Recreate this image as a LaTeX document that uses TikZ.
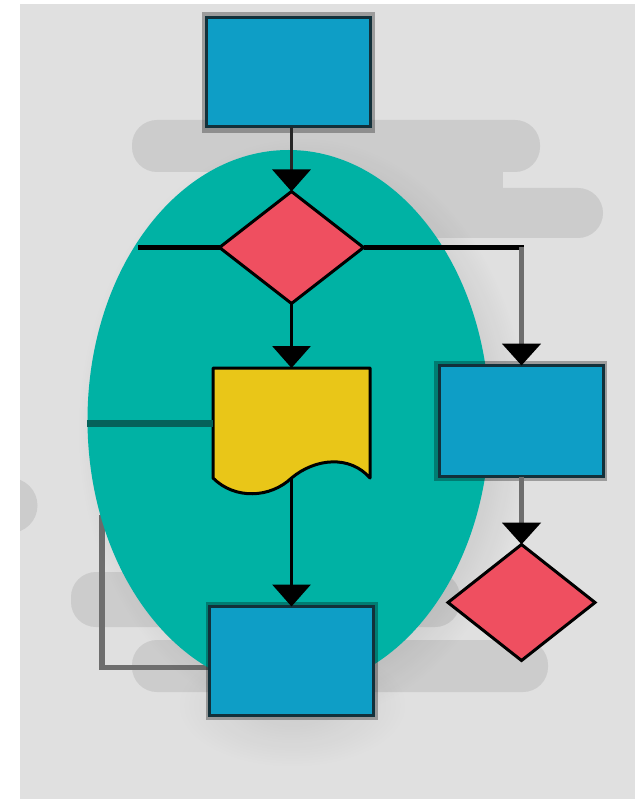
\documentclass[tikz,border=0pt]{standalone}
\usetikzlibrary{arrows.meta,shapes.geometric,fadings,calc}
\definecolor{bgc}{HTML}{E0E0E0}
\definecolor{blobc}{HTML}{CCCCCC}
\definecolor{tealc}{HTML}{00B2A4}
\definecolor{bluec}{HTML}{0E9EC6}
\definecolor{redc}{HTML}{EF4F60}
\definecolor{yelc}{HTML}{E9C618}
\definecolor{edgec}{HTML}{12303A}
\definecolor{linegray}{HTML}{6E6E6E}
\definecolor{darkteal}{HTML}{05625A}
\pgfdeclareradialshading{softedgeshade}{\pgfpointorigin}{color(0bp)=(pgftransparent!0); color(15bp)=(pgftransparent!0); color(25bp)=(pgftransparent!100); color(50bp)=(pgftransparent!100)}
\pgfdeclarefading{softedge}{\pgfuseshading{softedgeshade}}
\pgfdeclareradialshading{softallshade}{\pgfpointorigin}{color(0bp)=(pgftransparent!0); color(8bp)=(pgftransparent!10); color(25bp)=(pgftransparent!100); color(50bp)=(pgftransparent!100)}
\pgfdeclarefading{softall}{\pgfuseshading{softallshade}}
\pgfdeclarelayer{layerA}
\pgfdeclarelayer{layerB}
\pgfsetlayers{layerA,layerB,main}
\begin{document}
\begin{tikzpicture}[x=1pt,y=-1pt,
  boxst/.style={rectangle, draw=edgec, fill=bluec, line width=3pt, inner sep=0pt, outer sep=0pt, minimum width=164pt, minimum height=109pt},
  decst/.style={diamond, draw=black, fill=redc, line width=3pt, inner sep=0pt, outer sep=0pt},
  blob/.style={fill=blobc, rounded corners=25pt},
  rim/.style={fill=black, opacity=0.3},
  tip/.style={-{Triangle[width=38pt,length=22pt,color=black]}},
  blk/.style={draw=black, line width=4.5pt},
  vblk/.style={draw=black, line width=3.5pt},
  gln/.style={draw=linegray, line width=5.5pt},
]
\useasboundingbox (0,0) rectangle (635,799);

\begin{pgfonlayer}{layerA}
\fill[white] (0,0) rectangle (635,799);
\fill[bgc] (20,4) rectangle (635,799);
\begin{scope}
\clip (20,4) rectangle (635,799);
\fill[blobc] (10,505.5) circle [radius=27.5];
\fill[blob] (132,120) rectangle (540,172);
\fill[blob] (300,188) rectangle (603,238);
\fill[blobc] (300,165) rectangle (503,195);
\fill[blob] (71,572) rectangle (460,627);
\fill[blob] (132,640) rectangle (548,692);
\end{scope}
\end{pgfonlayer}

\begin{pgfonlayer}{layerB}
\fill[black, opacity=0.16, path fading=softedge] (303,430) ellipse [x radius=225, y radius=292];
\fill[tealc] (288.5,420) ellipse [x radius=201, y radius=270];
\end{pgfonlayer}

% box shadows
\fill[black, opacity=0.07, path fading=softall] (292,705) ellipse [x radius=115, y radius=62];
\fill[rim] (202,12) rectangle (375,133);
\fill[rim] (206,602) rectangle (378,720);
\fill[rim] (434,361) rectangle (607,481);

% nodes
\node[boxst] (top) at (288.5,72.5) {};
\node[decst, minimum width=144pt, minimum height=112pt] (d1) at (291.5,247.5) {};
\node[boxst, minimum height=111pt] (rbox) at (521.5,421) {};
\node[decst, minimum width=147pt, minimum height=116pt] (d2) at (521.5,602.5) {};
\node[boxst] (bot) at (291.5,661) {};
\node[rectangle, inner sep=0pt, outer sep=0pt, minimum width=157pt, minimum height=110pt] (doc) at (291.5,423) {};
\filldraw[fill=yelc, draw=black, line width=3pt, line join=round]
  (doc.north west) -- (doc.north east) -- (doc.south east)
  .. controls +(-20,-23) and +(24,-20) .. (doc.south)
  .. controls +(-21,20) and +(22,22) .. (doc.south west) -- cycle;

% free ends
\coordinate (L1) at (138,247.5);
\coordinate (L2) at (87,423);
\coordinate (LP) at (102,515);
\coordinate (R1) at (rbox.north |- d1.east);

% connectors
\draw[draw=black!85, line width=3.5pt, tip] (top.south -| d1.north) -- (d1.north);
\draw[blk] (d1.west) -- (L1);
\draw[blk] (d1.east) -- ($(R1)+(2.5,0)$);
\draw[gln, tip] (R1) -- (rbox.north);
\draw[vblk, tip] (d1.south) -- (doc.north);
\draw[vblk, tip] (doc.south) -- (bot.north);
\draw[gln, tip] (rbox.south) -- (d2.north);
\draw[darkteal, line width=7pt] (doc.west) -- (L2);
\begin{pgfonlayer}{layerA}
\draw[gln] ($(bot.west)+(0,6.5)$) -| (LP);
\end{pgfonlayer}
\end{tikzpicture}
\end{document}
